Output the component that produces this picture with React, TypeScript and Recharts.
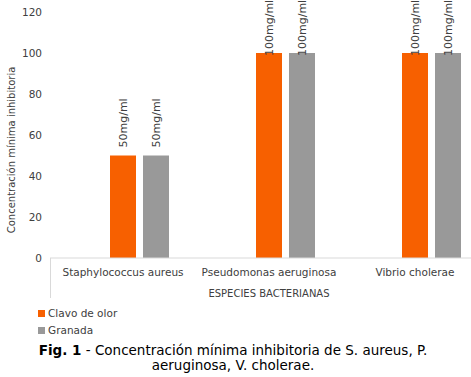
import React from 'react';
import { BarChart, Bar, XAxis, YAxis, LabelList } from 'recharts';

// valores
const especies = ['Staphylococcus aureus', 'Pseudomonas aeruginosa', 'Vibrio cholerae'];
const clavoDeOlor = [50, 100, 100];
const granada = [50, 100, 100];
const etiquetasClavo = ['50mg/ml', '100mg/ml', '100mg/ml'];
const etiquetasGranada = ['50mg/ml', '100mg/ml', '100mg/ml'];
const yTicks = [0, 20, 40, 60, 80, 100, 120];

const NARANJA = '#F76000';
const GRIS = '#999999';
const TEXTO = '#404040';
const FONT = '"DejaVu Sans", Verdana, sans-serif';

// la serie vacía reserva el primer hueco del grupo, como en el original
const data = especies.map((especie, i) => ({
  especie,
  vacio: null,
  clavo: clavoDeOlor[i],
  granada: granada[i],
  etClavo: etiquetasClavo[i],
  etGranada: etiquetasGranada[i],
}));

// etiqueta girada encima de la barra, sin salirse por arriba
const EtiquetaVertical = (props: any) => {
  const { x, y, width, value } = props;
  const cx = x + width / 2 + 4;
  const largo = String(value).length * 7;
  const ay = Math.max(y - 8, largo);
  return (
    <text
      x={cx}
      y={ay}
      transform={`rotate(-90 ${cx} ${ay})`}
      fontSize={11}
      fontFamily={FONT}
      fill={TEXTO}
      textAnchor="start"
    >
      {value}
    </text>
  );
};

const EtiquetaEjeY = (props: any) => {
  const { viewBox } = props;
  const cy = viewBox.y + viewBox.height / 2 + 15;
  return (
    <text
      x={15}
      y={cy}
      transform={`rotate(-90 15 ${cy})`}
      textAnchor="middle"
      fontSize={10}
      fontFamily={FONT}
      fill={TEXTO}
    >
      Concentración mínima inhibitoria
    </text>
  );
};

export default function App() {
  return (
    <div
      style={{
        position: 'absolute',
        left: 0,
        top: 0,
        width: 471,
        height: 377,
        overflow: 'hidden',
        background: '#fff',
        fontFamily: FONT,
      }}
    >
      <BarChart
        width={488}
        height={303}
        data={data}
        margin={{ top: 12, right: 0, left: 0, bottom: 0 }}
        barSize={26}
        barGap={7}
      >
        <XAxis
          dataKey="especie"
          interval={0}
          tickLine={false}
          axisLine={{ stroke: '#D9D9D9' }}
          height={45}
          tick={{ fill: TEXTO, fontSize: 10.5, fontFamily: FONT, dy: 3 }}
          label={{
            value: 'ESPECIES BACTERIANAS',
            position: 'insideBottom',
            offset: 6,
            fill: TEXTO,
            fontSize: 10,
            fontFamily: FONT,
          }}
        />
        <YAxis
          width={50}
          domain={[0, 120]}
          ticks={yTicks}
          axisLine={false}
          tickLine={false}
          tick={{ fill: TEXTO, fontSize: 10.5, fontFamily: FONT }}
          label={<EtiquetaEjeY />}
        />
        <Bar dataKey="vacio" fill="none" isAnimationActive={false} />
        <Bar dataKey="clavo" name="Clavo de olor" fill={NARANJA} isAnimationActive={false}>
          <LabelList dataKey="etClavo" content={<EtiquetaVertical />} />
        </Bar>
        <Bar dataKey="granada" name="Granada" fill={GRIS} isAnimationActive={false}>
          <LabelList dataKey="etGranada" content={<EtiquetaVertical />} />
        </Bar>
      </BarChart>

      <div
        style={{
          position: 'absolute',
          left: 50,
          top: 258,
          width: 1,
          height: 40,
          background: '#D9D9D9',
        }}
      />

      <div
        style={{
          position: 'absolute',
          left: 38,
          top: 305,
          fontSize: 10.5,
          color: TEXTO,
          lineHeight: '17px',
        }}
      >
        {[
          { nombre: 'Clavo de olor', color: NARANJA },
          { nombre: 'Granada', color: GRIS },
        ].map((s) => (
          <div key={s.nombre} style={{ display: 'flex', alignItems: 'center' }}>
            <span
              style={{
                display: 'inline-block',
                width: 7,
                height: 7,
                background: s.color,
                marginRight: 3,
              }}
            />
            {s.nombre}
          </div>
        ))}
      </div>

      <div
        style={{
          position: 'absolute',
          left: 0,
          top: 343,
          width: 466,
          textAlign: 'center',
          fontSize: 13.5,
          lineHeight: '15px',
          color: '#000',
        }}
      >
        <b>Fig. 1</b> - Concentración mínima inhibitoria de S. aureus, P.
        <br />
        aeruginosa, V. cholerae.
      </div>
    </div>
  );
}
